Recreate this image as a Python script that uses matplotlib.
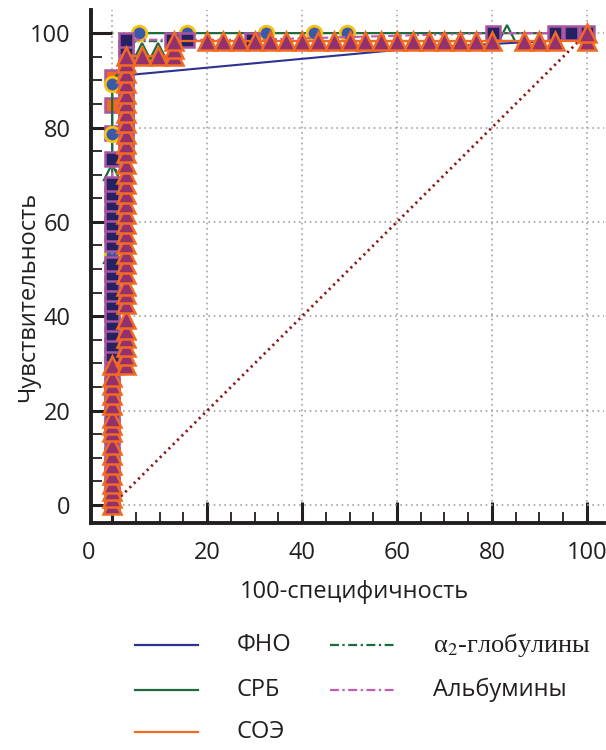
import matplotlib
matplotlib.use("Agg")
import matplotlib.pyplot as plt
from matplotlib.lines import Line2D
from matplotlib.ticker import MultipleLocator

# ---- data ----
# ФНО: navy line, orange squares
tnf_x = [0, 0, 0, 0, 65.0, 93.3, 100]
tnf_y = [0, 78.8, 84.7, 90.8, 96.9, 98.4, 100]
tnf_mark = [1, 2, 3]

# СРБ: green line, blue circles
crp_x = [0, 0, 0, 0, 0, 0, 5.7, 15.8, 32.4, 42.5, 49.5, 100]
crp_y = [0, 14.0, 23.0, 53.0, 78.6, 89.3, 100, 100, 100, 100, 100, 100]

# СОЭ: orange line, triangles
esr_x = [0, 0, 0, 0, 0, 0, 0, 0, 0, 0, 0, 0, 0, 0, 0, 0,
         3.0, 3.0, 3.0, 3.0, 3.0, 3.0, 3.0, 3.0, 3.0, 3.0, 3.0, 3.0, 3.0, 3.0, 3.0, 3.0,
         3.0, 3.0, 3.0, 3.0, 3.0, 3.0, 3.0, 3.0, 3.0, 3.0, 3.0, 3.0, 3.0, 3.0, 3.0, 3.0,
         6.3, 9.7, 13.0, 13.0, 13.0,
         20.0, 23.3, 26.7, 30.0, 33.3, 36.7, 40.0, 43.3, 46.7, 50.0, 53.3, 56.7, 60.0,
         63.3, 66.7, 70.0, 73.3, 76.7, 80.0, 86.7, 90.0, 93.3, 100, 100]
esr_y = [0.0, 1.5, 3.0, 4.5, 6.4, 8.5, 10.6, 12.8, 15.5, 17.0, 18.5, 21.3, 23.4, 25.5, 27.2, 29.6,
         29.6, 31.5, 33.4, 35.5, 37.0, 39.4, 42.6, 44.7, 46.5, 48.9, 51.1, 53.2, 55.3, 57.4, 59.6, 61.7,
         63.8, 66.0, 68.1, 70.2, 72.3, 74.5, 76.6, 78.7, 80.9, 83.0, 85.1, 87.2, 89.4, 91.5, 93.6, 95.2,
         95.2, 95.2, 95.2, 96.6, 98.3,
         98.3, 98.3, 98.3, 98.3, 98.3, 98.3, 98.3, 98.3, 98.3, 98.3, 98.3, 98.3, 98.3,
         98.3, 98.3, 98.3, 98.3, 98.3, 98.3, 98.3, 98.3, 98.3, 98.3, 100]

# α2-глобулины: dark green dash-dot line, open triangles
a2_x = [0, 0, 3.0, 3.0, 80.0, 83.2, 100]
a2_y = [0, 70.6, 72.0, 98.3, 98.3, 100, 100]
a2_mx = [0, 0, 6.3, 9.7, 83.2]
a2_my = [53.0, 70.6, 96.3, 96.3, 100]

# Альбумины: magenta dash-dot line, navy squares
alb_x = [0] * 33 + [3.0] * 12 + [12.6, 15.8, 29.5, 80.2, 93.3, 96.6, 100]
alb_y = [0.0, 2.1, 4.3, 6.4, 8.5, 10.6, 12.8, 14.9, 17.0, 19.1, 21.3, 23.4, 25.5, 27.7,
         29.8, 31.9, 34.0, 36.2, 38.3, 40.4, 42.6, 44.7, 46.8, 48.9, 51.1, 55.3, 57.4,
         59.6, 61.7, 63.8, 66.0, 68.1, 73.4,
         75.5, 77.7, 79.8, 81.9, 84.0, 86.2, 88.3, 90.4, 92.6, 94.7, 96.8, 98.6,
         98.6, 98.6, 98.6, 100, 100, 100, 100]

diag_x = [0, 100]
diag_y = [0, 100]

xticks = [0, 20, 40, 60, 80, 100]
yticks = [0, 20, 40, 60, 80, 100]

# ---- style ----
plt.rcParams['font.family'] = ['Open Sans', 'DejaVu Sans']
plt.rcParams['mathtext.fontset'] = 'stix'
ink = '#231f20'
fs = 17

navy = '#2e3192'
green = '#1d6b3b'
orange = '#f26a22'
magenta = '#c35bb3'
sq_edge = '#a9559f'
dashdot = (0, (4, 1.6, 1, 1.6))

fig = plt.figure(figsize=(6.06, 7.5), dpi=100)
ax = fig.add_axes([91.3 / 606, 227 / 750, 512.7 / 606, 513 / 750])
ax.set_xlim(-4.4, 103.6)
ax.set_ylim(-3.8, 104.9)
ax.set_axisbelow(True)

ax.plot(diag_x, diag_y, color='#8b1a1a', lw=2, ls=(0, (0.8, 1.4)), zorder=1.5)

ax.plot(tnf_x, tnf_y, color=navy, lw=1.5, marker='s', ms=10.5, mfc=orange, mec=sq_edge,
        mew=1.8, markevery=tnf_mark, zorder=2)
ax.plot(a2_x, a2_y, color=green, lw=1.5, ls=dashdot, zorder=3)
ax.plot(a2_mx, a2_my, ls='none', marker='^', ms=12, mfc='white', mec=green, mew=1.6, zorder=3)
ax.plot(crp_x, crp_y, color=green, lw=1.6, marker='o', ms=10.5, mfc='#3a59a8', mec='#f5c211',
        mew=2.0, markevery=list(range(len(crp_x) - 1)), zorder=3.5)
ax.plot(alb_x, alb_y, color=magenta, lw=1.5, ls=dashdot, marker='s', ms=10.5, mfc='#262262',
        mec=sq_edge, mew=1.8, zorder=4)
ax.plot(esr_x, esr_y, color=orange, lw=1.6, marker='^', ms=12.5, mfc='#93306e', mec=orange,
        mew=1.8, zorder=6)

for s in ['top', 'right']:
    ax.spines[s].set_visible(False)
for s in ['left', 'bottom']:
    ax.spines[s].set_linewidth(2.8)
    ax.spines[s].set_color(ink)

ax.set_xticks(xticks)
ax.set_yticks(yticks)
ax.set_xticklabels([''] + [str(t) for t in xticks[1:]])
ax.set_yticklabels([str(t) for t in yticks])
ax.xaxis.set_minor_locator(MultipleLocator(5))
ax.yaxis.set_minor_locator(MultipleLocator(5))
ax.tick_params(which='major', direction='in', length=15, width=2.2, color=ink,
               labelsize=fs, labelcolor=ink)
ax.tick_params(which='minor', direction='in', length=8, width=1.3, color=ink)
ax.tick_params(axis='x', which='major', pad=13)
ax.tick_params(axis='y', which='major', pad=15)
ax.text(-5.0, -18 / 513, '0', transform=ax.get_xaxis_transform(), ha='center', va='top',
        fontsize=fs, color=ink)

ax.grid(True, which='major', color='#a3a3a3', lw=1.2, ls=(0, (1, 2.2)))

fig.text(28 / 606, 1 - 297 / 750, 'Чувствительность', rotation=90, ha='center', va='center',
         fontsize=fs, color=ink)
fig.text(354 / 606, 1 - 592 / 750, '100-специфичность', ha='center', va='center',
         fontsize=fs, color=ink)

# legend, drawn by hand under the axes
leg = [
    (135, 198, 237, 645, navy, '-', 'ФНО'),
    (135, 198, 237, 690, green, '-', 'СРБ'),
    (135, 198, 237, 732, orange, '-', 'СОЭ'),
    (330, 395, 433, 645, green, dashdot, 'α$_2$-глобулины'),
    (330, 395, 433, 690, magenta, dashdot, 'Альбумины'),
]
for x0, x1, tx, yy, col, ls, lab in leg:
    fy = 1 - yy / 750
    fig.add_artist(Line2D([x0 / 606, x1 / 606], [fy, fy], transform=fig.transFigure,
                          color=col, lw=1.6, ls=ls))
    if '$' in lab:
        fig.text(tx / 606, fy, lab, ha='left', va='center', fontsize=19, color=ink,
                 family='Liberation Serif')
    else:
        fig.text(tx / 606, fy, lab, ha='left', va='center', fontsize=fs, color=ink)

fig.savefig('out.png', dpi=100)
